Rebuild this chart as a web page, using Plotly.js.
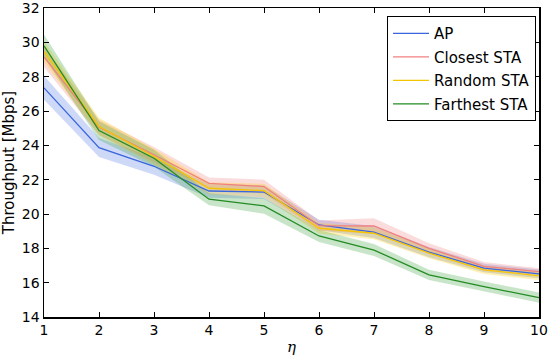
<!DOCTYPE html>
<html>
<head>
<meta charset="utf-8">
<script src="https://cdn.plot.ly/plotly-3.0.1.min.js"></script>
<style>html,body{margin:0;padding:0;background:#fff;}#chart{width:550px;height:358px;}</style>
</head>
<body>
<div id="chart"></div>
<script>
const eta = [1, 2, 3, 4, 5, 6, 7, 8, 9, 10];
const seriesNames = ["AP", "Closest STA", "Random STA", "Farthest STA"];
const apMean       = [27.35, 23.87, 22.78, 21.34, 21.28, 19.36, 18.95, 17.78, 16.85, 16.51];
const apErr        = [0.7, 0.55, 0.5, 0.4, 0.4, 0.3, 0.35, 0.3, 0.25, 0.25];
const closestMean  = [29.15, 25.05, 23.45, 21.78, 21.6, 19.32, 19.3, 18.0, 16.95, 16.64];
const closestErr   = [0.6, 0.45, 0.45, 0.35, 0.4, 0.3, 0.45, 0.3, 0.25, 0.2];
const randomMean   = [29.45, 25.1, 23.35, 21.5, 21.36, 19.17, 18.88, 17.72, 16.75, 16.4];
const randomErr    = [0.6, 0.5, 0.45, 0.35, 0.4, 0.3, 0.35, 0.3, 0.25, 0.25];
const farthestMean = [29.8, 24.86, 23.25, 20.86, 20.47, 18.72, 17.9, 16.45, 15.77, 15.13];
const farthestErr  = [0.65, 0.55, 0.5, 0.35, 0.45, 0.35, 0.35, 0.3, 0.3, 0.3];
const xTicks = [1, 2, 3, 4, 5, 6, 7, 8, 9, 10];
const yTicks = [14, 16, 18, 20, 22, 24, 26, 28, 30, 32];

const means = [apMean, closestMean, randomMean, farthestMean];
const errs = [apErr, closestErr, randomErr, farthestErr];
const lineColors = ["#3a66dd", "#f08080", "#f5c400", "#228b22"];
const bandColors = ["rgba(80,120,230,0.28)", "rgba(240,128,128,0.28)", "rgba(255,205,0,0.28)", "rgba(60,160,60,0.28)"];

const traces = [];
for (let i = 0; i < 4; i++) {
  const up = means[i].map((v, k) => v + errs[i][k]);
  const lo = means[i].map((v, k) => v - errs[i][k]);
  traces.push({
    x: eta.concat(eta.slice().reverse()),
    y: up.concat(lo.slice().reverse()),
    type: "scatter", mode: "lines", fill: "toself",
    fillcolor: bandColors[i], line: {width: 0, color: "rgba(0,0,0,0)"},
    hoverinfo: "skip", showlegend: false
  });
}
for (let i = 0; i < 4; i++) {
  traces.push({
    x: eta, y: means[i], name: seriesNames[i],
    type: "scatter", mode: "lines",
    line: {color: lineColors[i], width: 1.3},
    legendgroup: "g" + i
  });
}

const axisCommon = {
  showgrid: false, zeroline: false, showline: true, linecolor: "#000", linewidth: 1.5,
  mirror: "allticks", ticks: "inside", ticklen: 5, tickcolor: "#000", tickwidth: 1,
  ticklabeloverflow: "allow", automargin: false,
  tickfont: {family: "DejaVu Sans", size: 14, color: "#000"}
};

const layout = {
  width: 550, height: 358,
  margin: {l: 44, r: 11, t: 8, b: 41},
  paper_bgcolor: "#fff", plot_bgcolor: "#fff",
  font: {family: "DejaVu Sans", color: "#000"},
  xaxis: Object.assign({}, axisCommon, {
    range: [1, 10], tickvals: xTicks, ticktext: xTicks.map(String),
    title: {text: "<i>η</i>", font: {family: "DejaVu Serif", size: 15}, standoff: 4}
  }),
  yaxis: Object.assign({}, axisCommon, {
    range: [14, 32], tickvals: yTicks, ticktext: yTicks.map(String),
    title: {text: "Throughput [Mbps]", font: {family: "DejaVu Sans", size: 15}, standoff: 4}
  }),
  legend: {
    x: 0.994, y: 0.974, xanchor: "right", yanchor: "top",
    bordercolor: "#000", borderwidth: 1, bgcolor: "#fff",
    font: {family: "DejaVu Sans", size: 15, color: "#000"},
    traceorder: "grouped", tracegroupgap: 1, itemwidth: 36
  },
  showlegend: true
};

Plotly.newPlot("chart", traces, layout, {displayModeBar: false, staticPlot: true});
</script>
</body>
</html>
